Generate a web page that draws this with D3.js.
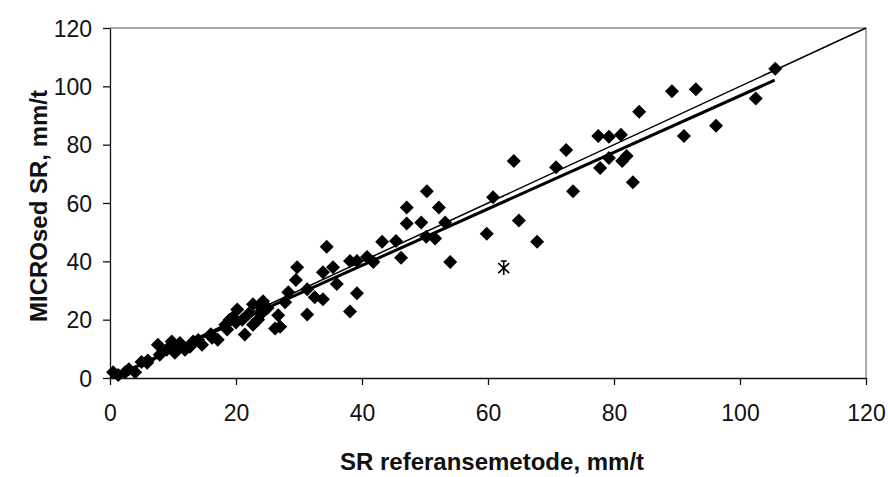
<!DOCTYPE html>
<html>
<head>
<meta charset="utf-8">
<script src="https://cdn.jsdelivr.net/npm/d3@7"></script>
<style>
  body { margin: 0; background: #fff; }
  text { font-family: "Liberation Sans", Arial, sans-serif; }
</style>
</head>
<body>
<div id="chart"></div>
<script>
// reference method values (x) and MICROsed values (y)
var refX = [0.5, 1.3, 2.4, 4, 3, 5, 5.9, 6, 7.6, 7.9, 9, 9.8, 10, 10.3, 11.1, 11.9, 12.7, 13.2, 14, 14.6,
    16, 16.2, 17.1, 18.6, 18.3, 19, 19.5, 20, 20.2, 21, 21.4, 22, 22.7, 22.7, 23.5, 23.8, 24, 24.3, 25, 26.7,
    26.2, 27, 27.8, 28.3, 29.5, 29.7, 31.3, 31.3, 32.5, 33.8, 33.8, 34.4, 35.4, 36, 38.1, 39.2, 38.1, 39.2, 40.8, 41.8,
    43.2, 45.4, 46.2, 47.1, 47.1, 49.4, 50.3, 50.2, 51.6, 52.2, 53.2, 54, 59.8, 60.8, 64.1, 64.9, 67.8, 70.8, 72.4, 73.5,
    77.5, 79.2, 81.1, 79.2, 82, 81.3, 77.8, 83, 84, 89.2, 93, 91.1, 96.2, 102.5, 105.6];
var microY = [2, 1, 2, 2, 3, 5.5, 5.2, 6, 11.4, 8, 9.7, 12.5, 10, 8.7, 12, 9.7, 10.7, 12.5, 13, 11.4,
    15, 13.8, 13.1, 16.6, 18.3, 20, 20.8, 19, 23.5, 20, 14.9, 22, 18.3, 25.3, 20, 24.6, 22, 26.3, 24, 21.5,
    17, 17.6, 26, 29.4, 33.6, 38, 30.4, 21.8, 27.7, 27, 36.3, 45, 38, 32.2, 22.8, 29.1, 40.1, 40.1, 41.5, 39.8,
    46.7, 47, 41.2, 58.5, 53, 53.3, 64, 48.4, 47.8, 58.5, 53.3, 39.8, 49.5, 62, 74.4, 54, 46.7, 72.3, 78.2, 64,
    83, 82.7, 83.4, 75.4, 76.1, 74.4, 72, 67.1, 91.3, 98.3, 99, 83, 86.5, 95.8, 106];

// outlier shown with a star marker
var outlierX = [62.5];
var outlierY = [37.7];

// 1:1 line and regression line end points
var identX = [0, 120];
var identY = [0, 120];
var regX = [0.5, 105.5];
var regY = [0.3, 102.1];

var xTicks = [0, 20, 40, 60, 80, 100, 120];
var yTicks = [0, 20, 40, 60, 80, 100, 120];

var svgWidth = 888;
var svgHeight = 477;
var margin = { top: 28, right: 22, bottom: 99, left: 110 };
var width = svgWidth - margin.left - margin.right;
var height = svgHeight - margin.top - margin.bottom;

var svg = d3.select("#chart")
    .append("svg")
    .attr("width", svgWidth)
    .attr("height", svgHeight);

var chartGroup = svg.append("g")
    .attr("transform", `translate(${margin.left}, ${margin.top})`);

var xScale = d3.scaleLinear().domain([0, 120]).range([0, width]);
var yScale = d3.scaleLinear().domain([0, 120]).range([height, 0]);

// plot frame (top and right)
chartGroup.append("path")
    .attr("d", `M0,0H${width}V${height}`)
    .attr("fill", "none")
    .attr("stroke", "#555")
    .attr("stroke-width", 1);

var bottomAxis = d3.axisBottom(xScale).tickValues(xTicks).tickSize(7).tickSizeOuter(0);
var leftAxis = d3.axisLeft(yScale).tickValues(yTicks).tickSize(7).tickSizeOuter(0);

var gx = chartGroup.append("g")
    .attr("transform", `translate(0, ${height})`)
    .call(bottomAxis);
gx.selectAll("text").attr("dy", "1.42em").style("font-size", "23px").attr("fill", "#111");

var gy = chartGroup.append("g").call(leftAxis);
gy.selectAll("text").attr("dx", "-8px").attr("dy", "0.36em").style("font-size", "23px").attr("fill", "#111");

chartGroup.selectAll(".domain, .tick line").attr("stroke", "#111").attr("stroke-width", 1.3);

// lines
var line = d3.line().x(d => xScale(d[0])).y(d => yScale(d[1]));
chartGroup.append("path")
    .attr("d", line(d3.zip(identX, identY)))
    .attr("fill", "none").attr("stroke", "#000").attr("stroke-width", 1.5);
chartGroup.append("path")
    .attr("d", line(d3.zip(regX, regY)))
    .attr("fill", "none").attr("stroke", "#000").attr("stroke-width", 3);

// diamond markers
var diamond = "M0,-7L7,0L0,7L-7,0Z";
chartGroup.selectAll(".pt")
    .data(d3.zip(refX, microY))
    .enter()
    .append("path")
    .attr("class", "pt")
    .attr("d", diamond)
    .attr("transform", d => `translate(${xScale(d[0])}, ${yScale(d[1])})`)
    .attr("fill", "#000");

// star marker
var star = "M0,-7V7M-5.5,-5L5.5,5M-5.5,5L5.5,-5M-3,-7H3";
chartGroup.selectAll(".star")
    .data(d3.zip(outlierX, outlierY))
    .enter()
    .append("path")
    .attr("class", "star")
    .attr("d", star)
    .attr("transform", d => `translate(${xScale(d[0])}, ${yScale(d[1])})`)
    .attr("fill", "none")
    .attr("stroke", "#000")
    .attr("stroke-width", 1.6);

// axis titles
chartGroup.append("text")
    .attr("transform", `translate(${382}, ${470 - margin.top})`)
    .attr("text-anchor", "middle")
    .style("font-size", "24px")
    .style("font-weight", "bold")
    .attr("fill", "#111")
    .text("SR referansemetode, mm/t");

chartGroup.append("text")
    .attr("transform", `translate(${47 - margin.left}, ${206 - margin.top}) rotate(-90)`)
    .attr("text-anchor", "middle")
    .style("font-size", "24px")
    .style("font-weight", "bold")
    .attr("fill", "#111")
    .text("MICROsed SR, mm/t");
</script>
</body>
</html>
